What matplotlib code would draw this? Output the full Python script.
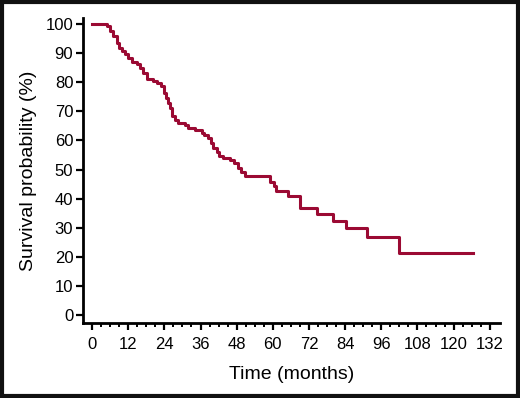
import matplotlib
matplotlib.use("Agg")
import matplotlib.pyplot as plt
from matplotlib.patches import Rectangle

# Kaplan-Meier estimate (months, survival %)
times = [0, 4.9, 6.0, 7.1, 8.2, 9.0, 9.8, 10.9, 12.0, 13.2, 14.8, 15.9, 17.0,
         18.1, 20.3, 21.5, 23.0, 24.0, 24.6, 25.1, 25.9, 26.6, 27.5, 28.6,
         30.9, 32.0, 34.2, 36.4, 37.3, 38.6, 39.5, 40.2, 41.4, 42.1, 43.6,
         45.8, 47.2, 48.3, 49.4, 50.8, 59.0, 60.3, 61.2, 65.1, 69.0, 74.5,
         80.0, 84.2, 91.1, 101.9, 126.5]
survival = [100, 99.2, 97.5, 95.8, 93.5, 91.8, 90.6, 89.6, 88.3, 87.0, 86.2,
            84.9, 83.2, 81.0, 80.3, 79.6, 78.6, 76.2, 74.5, 73.0, 71.1, 68.5,
            67.0, 65.9, 65.3, 64.2, 63.6, 62.7, 61.9, 60.8, 59.0, 57.3, 56.2,
            54.8, 53.9, 53.3, 52.2, 50.7, 49.3, 47.8, 45.9, 44.4, 42.8, 40.8,
            36.9, 34.7, 32.5, 29.9, 27.0, 21.3, 21.3]

x_ticks = list(range(0, 133, 12))
y_ticks = list(range(0, 101, 10))

plt.rcParams['font.family'] = ['Liberation Sans Narrow', 'Liberation Sans', 'DejaVu Sans']

fig = plt.figure(figsize=(5.2, 3.98), dpi=100)
ax = fig.add_axes([83 / 520, 1 - 323 / 398, 417 / 520, 305 / 398])

ax.step(times, survival, where='post', color='#9b0a33', linewidth=2.2)

ax.set_xlim(-3, 135.4)
ax.set_ylim(-2.6, 102)
ax.set_xticks(x_ticks)
ax.set_xticks(range(0, 133, 3), minor=True)
ax.set_yticks(y_ticks)

ax.spines['top'].set_visible(False)
ax.spines['right'].set_visible(False)
for s in ['left', 'bottom']:
    ax.spines[s].set_linewidth(2)
ax.tick_params(axis='both', which='major', direction='out', length=5, width=1.6,
               labelsize=12, pad=2)
ax.tick_params(axis='x', which='minor', direction='out', length=3, width=1.4)
ax.tick_params(axis='x', which='major', pad=5)

ax.set_xlabel("Time (months)", fontsize=14, labelpad=10)
ax.set_ylabel("Survival probability (%)", fontsize=14, labelpad=6)

# black frame round the whole picture
fig.patches.append(Rectangle((0.003, 0.004), 0.994, 0.992, transform=fig.transFigure,
                             fill=False, edgecolor='#111111', linewidth=3))

fig.savefig("out.png", dpi=100)
